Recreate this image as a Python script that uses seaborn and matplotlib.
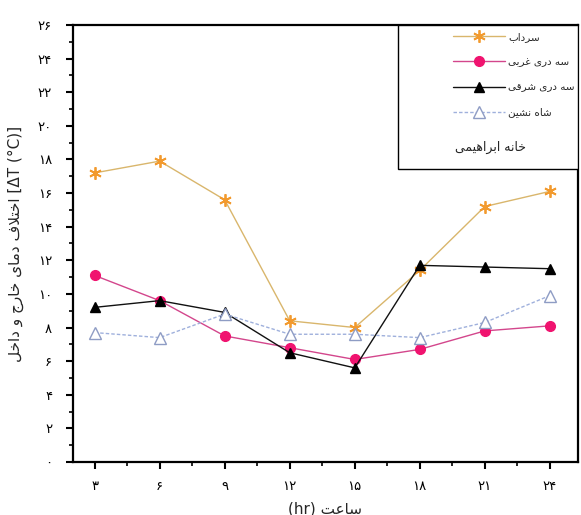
import matplotlib
matplotlib.use("Agg")
import matplotlib.pyplot as plt
from matplotlib.lines import Line2D
from matplotlib.patches import Rectangle
from matplotlib.ticker import FixedLocator, MultipleLocator
import pandas as pd
import seaborn as sns

# ---- data ----
hours = [3, 6, 9, 12, 15, 18, 21, 24]
sardab = [17.2, 17.9, 15.6, 8.4, 8.0, 11.4, 15.2, 16.1]
west_sedari = [11.1, 9.6, 7.5, 6.8, 6.1, 6.7, 7.8, 8.1]
east_sedari = [9.2, 9.6, 8.9, 6.5, 5.6, 11.7, 11.6, 11.5]
shahneshin = [7.7, 7.4, 8.8, 7.6, 7.6, 7.4, 8.3, 9.9]

series_names = ["سرداب", "سه دری غربی", "سه دری شرقی", "شاه نشین"]
house_name = "خانه ابراهیمی"
x_label = "ساعت"
y_label = "اختلاف دمای خارج و داخل"
y_ticks = list(range(0, 27, 2))


# ---- minimal Persian shaping (contextual forms + visual order) ----
FORMS = {  # isolated, final, initial, medial
    "ا": ("\ufe8d", "\ufe8e", None, None),
    "ب": ("\ufe8f", "\ufe90", "\ufe91", "\ufe92"),
    "ت": ("\ufe95", "\ufe96", "\ufe97", "\ufe98"),
    "ج": ("\ufe9d", "\ufe9e", "\ufe9f", "\ufea0"),
    "خ": ("\ufea5", "\ufea6", "\ufea7", "\ufea8"),
    "د": ("\ufea9", "\ufeaa", None, None),
    "ر": ("\ufead", "\ufeae", None, None),
    "س": ("\ufeb1", "\ufeb2", "\ufeb3", "\ufeb4"),
    "ش": ("\ufeb5", "\ufeb6", "\ufeb7", "\ufeb8"),
    "ع": ("\ufec9", "\ufeca", "\ufecb", "\ufecc"),
    "غ": ("\ufecd", "\ufece", "\ufecf", "\ufed0"),
    "ف": ("\ufed1", "\ufed2", "\ufed3", "\ufed4"),
    "ق": ("\ufed5", "\ufed6", "\ufed7", "\ufed8"),
    "ل": ("\ufedd", "\ufede", "\ufedf", "\ufee0"),
    "م": ("\ufee1", "\ufee2", "\ufee3", "\ufee4"),
    "ن": ("\ufee5", "\ufee6", "\ufee7", "\ufee8"),
    "ه": ("\ufee9", "\ufeea", "\ufeeb", "\ufeec"),
    "و": ("\ufeed", "\ufeee", None, None),
    "ی": ("\ufeef", "\ufef0", "\ufef3", "\ufef4"),
}


def joins_next(ch):
    return ch in FORMS and FORMS[ch][2] is not None


def shape(word_text):
    chars = list(word_text)
    out = []
    i = 0
    while i < len(chars):
        ch = chars[i]
        prev = chars[i - 1] if i > 0 else None
        linked_prev = prev is not None and joins_next(prev)
        # lam-alef ligature
        if ch == "ل" and i + 1 < len(chars) and chars[i + 1] == "ا":
            out.append("\ufefc" if linked_prev else "\ufefb")
            i += 2
            continue
        if ch not in FORMS:
            out.append(ch)
            i += 1
            continue
        nxt = chars[i + 1] if i + 1 < len(chars) else None
        linked_next = joins_next(ch) and nxt in FORMS
        iso, fin, ini, med = FORMS[ch]
        if linked_prev and linked_next:
            out.append(med)
        elif linked_prev:
            out.append(fin)
        elif linked_next:
            out.append(ini)
        else:
            out.append(iso)
        i += 1
    return "".join(out)


def fa(text):
    return shape(text)[::-1]


def fa_digits(n):
    return "".join(chr(0x06F0 + int(d)) for d in str(n))


# ---- figure ----
sns.set_theme(style="ticks")
plt.rcParams["font.family"] = ["DejaVu Sans"]
plt.rcParams["axes.unicode_minus"] = False

fig = plt.figure(figsize=(5.81, 5.15), dpi=100)
ax = fig.add_axes([0.1256, 0.1029, 0.8692, 0.8486])

df = pd.DataFrame({"hour": hours, "s1": sardab, "s2": west_sedari,
                   "s3": east_sedari, "s4": shahneshin})

styles = [
    dict(col="s1", color="#d9b66c", marker=(6, 2, 0), mec="#f29a2e", mfc="#f29a2e",
         ms=9, mew=1.3, ls="-"),
    dict(col="s2", color="#d3468c", marker="o", mec="#f0136f", mfc="#f0136f",
         ms=7, mew=1.0, ls="-"),
    dict(col="s3", color="#111111", marker="^", mec="#000000", mfc="#000000",
         ms=7, mew=1.0, ls="-"),
    dict(col="s4", color="#9fb0dc", marker="^", mec="#8e9cc4", mfc="white",
         ms=9, mew=1.0, ls=(0, (2.5, 1.5))),
]

handles = []
for st, name in zip(styles, series_names):
    sns.lineplot(data=df, x="hour", y=st["col"], ax=ax, color=st["color"],
                 lw=1.0, linestyle=st["ls"], marker=st["marker"],
                 markersize=st["ms"], markeredgecolor=st["mec"],
                 markerfacecolor=st["mfc"], markeredgewidth=st["mew"],
                 legend=False)
    handles.append(Line2D([], [], color=st["color"], lw=1.0, linestyle=st["ls"],
                          marker=st["marker"], markersize=st["ms"],
                          markeredgecolor=st["mec"], markerfacecolor=st["mfc"],
                          markeredgewidth=st["mew"], label=fa(name)))

ax.set_xlim(2.0, 25.3)
ax.set_ylim(0, 26)
ax.xaxis.set_major_locator(FixedLocator(hours))
ax.xaxis.set_minor_locator(FixedLocator([4.5, 7.5, 10.5, 13.5, 16.5, 19.5, 22.5]))
ax.set_xticklabels([fa_digits(h) for h in hours])
ax.yaxis.set_major_locator(FixedLocator(y_ticks))
ax.yaxis.set_minor_locator(MultipleLocator(1))
ax.set_yticklabels([fa_digits(v) for v in y_ticks])

for s in ax.spines.values():
    s.set_visible(True)
    s.set_linewidth(1.6)
    s.set_color("black")
ax.tick_params(axis="both", which="major", direction="out", length=5, width=1.5,
               labelsize=9.5, pad=8, colors="black")
ax.tick_params(axis="both", which="minor", direction="out", length=3, width=1.2,
               colors="black")
ax.tick_params(axis="y", which="major", pad=10)

ax.set_xlabel("(hr) " + fa(x_label), fontsize=11, labelpad=6)
ax.set_ylabel(fa(y_label) + " [ΔT (°C)]", fontsize=11, labelpad=10)

# legend box sharing the top-right corner of the axes
ax.add_patch(Rectangle((0.644, 0.67), 0.356, 0.33, transform=ax.transAxes,
                       facecolor="white", edgecolor="black", lw=1.0, zorder=4))
leg = ax.legend(handles=handles, loc="upper left", bbox_to_anchor=(0.752, 0.984),
                borderaxespad=0.0, borderpad=0.0, markerfirst=True, fontsize=7.5,
                handlelength=5.0, labelspacing=1.45, frameon=False,
                handletextpad=0.3)
leg.set_zorder(5)
ax.text(0.826, 0.719, fa(house_name), transform=ax.transAxes, fontsize=9,
        ha="center", va="center", zorder=6)

fig.savefig("out.png", dpi=100)
